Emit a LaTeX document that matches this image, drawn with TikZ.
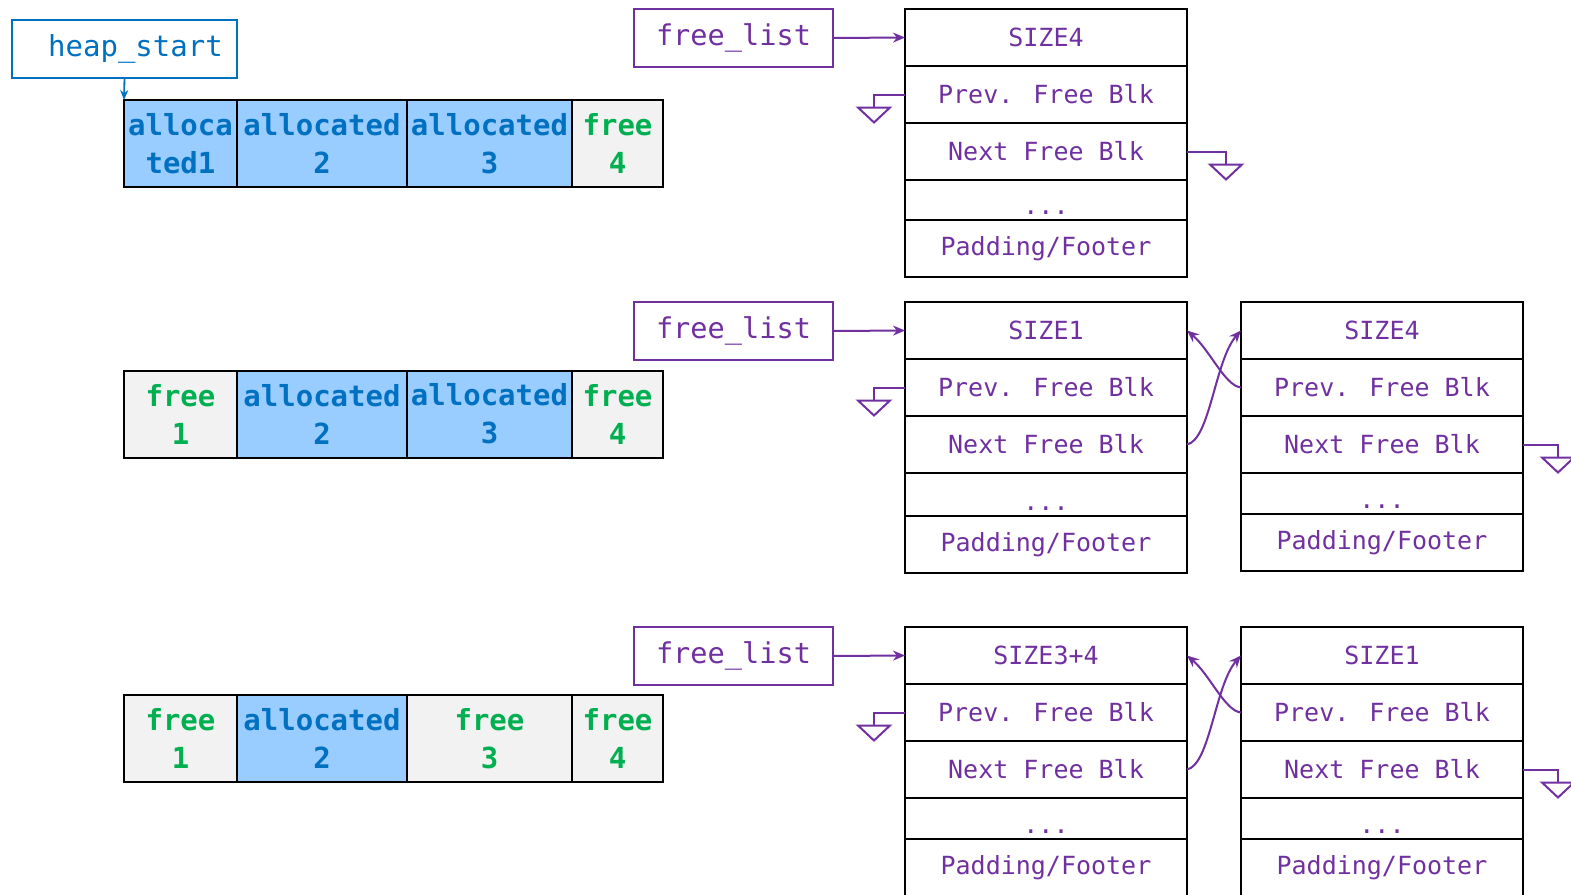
\documentclass[tikz,border=0pt]{standalone}
\usepackage{fontspec}
\usetikzlibrary{arrows.meta,calc}
\newfontfamily\codefont{DejaVu Sans Mono}
\definecolor{ppl}{HTML}{7030A0}
\definecolor{blu}{HTML}{0070C0}
\definecolor{grn}{HTML}{00B050}
\definecolor{allocfill}{HTML}{99CCFF}
\definecolor{freefill}{HTML}{F2F2F2}

\tikzset{
  blk/.style={draw=black, line width=1pt, inner sep=0pt, outer sep=0pt,
    minimum height=43.5pt, align=center,
    font=\codefont\bfseries\fontsize{14.5}{19}\selectfont},
  alloc/.style={blk, fill=allocfill, text=blu},
  freeb/.style={blk, fill=freefill, text=grn},
  cell/.style={draw=black, line width=1pt, inner sep=0pt, outer sep=0pt,
    minimum width=141pt, minimum height=28.5pt, text=ppl,
    font=\codefont\fontsize{12.5}{15}\selectfont},
  dotrow/.style={text=ppl, inner sep=0pt, font=\codefont\fontsize{12.5}{15}\selectfont},
  ptr/.style={draw=ppl, line width=1pt, inner sep=0pt, outer sep=0pt,
    minimum width=99.5pt, minimum height=29pt, text=ppl,
    font=\codefont\fontsize{14.3}{17}\selectfont},
  headbox/.style={draw=blu, line width=1pt, inner sep=0pt, outer sep=0pt,
    minimum width=112.5pt, minimum height=29pt, text=blu,
    font=\codefont\fontsize{14.5}{17}\selectfont},
  parrow/.style={ppl, line width=1pt, -{Stealth[length=6pt,width=5pt]}},
  barrow/.style={blu, line width=0.9pt, -{Stealth[length=5pt,width=4pt]}},
  pline/.style={ppl, line width=1pt},
  gnd/.pic={\draw[pline, line join=miter] (-16,0) -- (16,0) -- (0,15) -- cycle;},
}

\begin{document}
\begin{tikzpicture}[x=0.5pt, y=-0.5pt]
\useasboundingbox (0,0) rectangle (1571,895);
\clip (0,0) rectangle (1571,895);

% ---------- heap layouts ----------
\node[headbox] (hs) at (124.5,49) {\hspace{11pt}heap\_start};

\node[alloc, minimum width=56.5pt] (a1) at (180.5,143.5) {alloca\\ted1};
\node[alloc, minimum width=85pt]   (a2) at (322,143.5)   {allocated\\2};
\node[alloc, minimum width=82.5pt] (a3) at (489.5,143.5) {allocated\\3};
\node[freeb, minimum width=45.5pt] (a4) at (617.5,143.5) {free\\4};
\draw[barrow] (hs.south) -- (a1.north west);

\node[freeb, minimum width=56.5pt] (b1) at (180.5,414) {free\\1};
\node[alloc, minimum width=85pt]   (b2) at (322,414)   {allocated\\2};
\node[alloc, minimum width=82.5pt] (b3) at (489.5,414) {allocated\\3};
\node[freeb, minimum width=45.5pt] (b4) at (617.5,414) {free\\4};

\node[freeb, minimum width=56.5pt] (c1) at (180.5,738.5) {free\\1};
\node[alloc, minimum width=85pt]   (c2) at (322,738.5)   {allocated\\2};
\node[freeb, minimum width=82.5pt] (c3) at (489.5,738.5) {free\\3};
\node[freeb, minimum width=45.5pt] (c4) at (617.5,738.5) {free\\4};

% ---------- free list 1 ----------
\node[ptr] (fl1) at (733.5,38) {free\_list};
\node[cell] (s1a) at (1046,37.5)  {SIZE4};
\node[cell] (s1b) at (1046,94.5)  {Prev. Free Blk};
\node[cell] (s1c) at (1046,151.5) {Next Free Blk};
\node[cell, minimum height=20pt] (s1d) at (1046,200) {};
\node[cell] (s1e) at (1046,248.5) {Padding/Footer};
\node[dotrow, anchor=base] (s1dt) at ($(s1d.south)+(0,-6)$) {...};
\draw[parrow] (fl1.east) -- (s1a.west);
\draw[pline] (s1b.west) -| ++(-31,13) coordinate (g1);
\pic at (g1) {gnd};
\draw[pline] (s1c.east) -| ++(39,13) coordinate (g2);
\pic at (g2) {gnd};

% ---------- free list 2 ----------
\node[ptr] (fl2) at (733.5,331) {free\_list};
\node[cell] (s2a) at (1046,330.5) {SIZE1};
\node[cell] (s2b) at (1046,387.5) {Prev. Free Blk};
\node[cell] (s2c) at (1046,444.5) {Next Free Blk};
\node[cell, minimum height=21.5pt] (s2d) at (1046,494.5) {};
\node[cell] (s2e) at (1046,544.5) {Padding/Footer};
\node[dotrow, anchor=base] (s2dt) at ($(s2d.south)+(0,-6)$) {...};

\node[cell] (t2a) at (1382,330.5) {SIZE4};
\node[cell] (t2b) at (1382,387.5) {Prev. Free Blk};
\node[cell] (t2c) at (1382,444.5) {Next Free Blk};
\node[cell, minimum height=20.5pt] (t2d) at (1382,493.5) {};
\node[cell] (t2e) at (1382,542.5) {Padding/Footer};
\node[dotrow, anchor=base] (t2dt) at ($(t2d.south)+(0,-6)$) {...};

\draw[parrow] (fl2.east) -- (s2a.west);
\draw[pline] (s2b.west) -| ++(-31,13) coordinate (g3);
\pic at (g3) {gnd};
\draw[pline] (t2c.east) -| ++(35,13) coordinate (g4);
\pic at (g4) {gnd};
\draw[parrow] (s2c.east) .. controls (1210,440) and (1215,360) .. (t2a.west);
\draw[parrow] (t2b.west) .. controls (1225,386) and (1210,350) .. (s2a.east);

% ---------- free list 3 ----------
\node[ptr] (fl3) at (733.5,656) {free\_list};
\node[cell] (s3a) at (1046,655.5) {SIZE3+4};
\node[cell] (s3b) at (1046,712.5) {Prev. Free Blk};
\node[cell] (s3c) at (1046,769.5) {Next Free Blk};
\node[cell, minimum height=20.5pt] (s3d) at (1046,818.5) {};
\node[cell] (s3e) at (1046,867.5) {Padding/Footer};
\node[dotrow, anchor=base] (s3dt) at ($(s3d.south)+(0,-6)$) {...};

\node[cell] (t3a) at (1382,655.5) {SIZE1};
\node[cell] (t3b) at (1382,712.5) {Prev. Free Blk};
\node[cell] (t3c) at (1382,769.5) {Next Free Blk};
\node[cell, minimum height=20.5pt] (t3d) at (1382,818.5) {};
\node[cell] (t3e) at (1382,867.5) {Padding/Footer};
\node[dotrow, anchor=base] (t3dt) at ($(t3d.south)+(0,-6)$) {...};

\draw[parrow] (fl3.east) -- (s3a.west);
\draw[pline] (s3b.west) -| ++(-31,13) coordinate (g5);
\pic at (g5) {gnd};
\draw[pline] (t3c.east) -| ++(35,13) coordinate (g6);
\pic at (g6) {gnd};
\draw[parrow] (s3c.east) .. controls (1210,765) and (1215,685) .. (t3a.west);
\draw[parrow] (t3b.west) .. controls (1225,711) and (1210,675) .. (s3a.east);
\end{tikzpicture}
\end{document}
